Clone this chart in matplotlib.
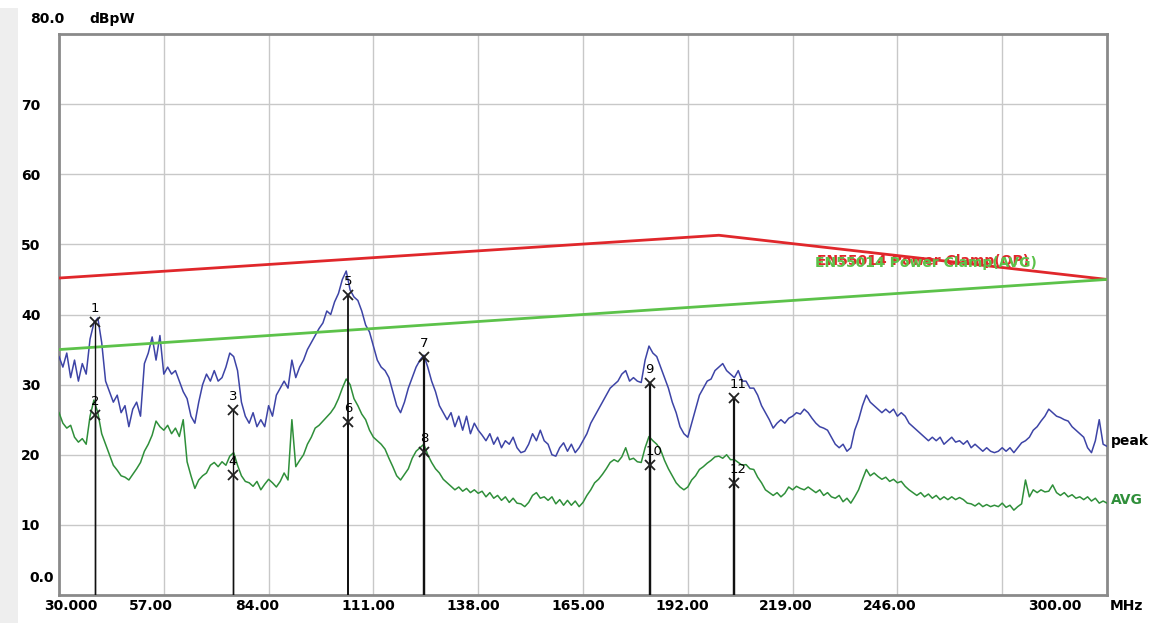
import numpy as np
import matplotlib
matplotlib.use("Agg")
import matplotlib.pyplot as plt
from matplotlib.patches import Rectangle

# scan frequencies, 1 MHz steps
freq = np.arange(30, 301, 1)

peak = [
    34.0, 32.5, 34.5, 31.0, 33.5, 30.5, 33.0, 31.5, 36.5, 38.8,
    39.5, 36.0, 30.5, 29.0, 27.5, 28.5, 26.0, 27.0, 24.0, 26.5,
    27.5, 25.5, 33.0, 34.5, 36.8, 33.5, 37.0, 31.5, 32.5, 31.5,
    32.0, 30.5, 29.0, 28.0, 25.5, 24.5, 27.5, 30.0, 31.5, 30.5,
    32.0, 30.5, 31.0, 32.5, 34.5, 34.0, 32.0, 27.5, 25.5, 24.5,
    26.0, 24.0, 25.0, 24.0, 27.0, 25.5, 28.5, 29.5, 30.5, 29.5,
    33.5, 31.0, 32.5, 33.5, 35.0, 36.0, 37.0, 38.0, 38.8, 40.5,
    40.0, 41.8, 43.0, 45.0, 46.2, 43.5, 42.5, 42.0, 40.5, 38.5,
    37.5, 35.5, 33.5, 32.5, 32.0, 31.0, 29.0, 27.0, 26.0, 27.5,
    29.5, 31.0, 32.5, 33.5, 34.2, 32.5, 30.5, 29.0, 27.0, 26.0,
    25.0, 26.0, 24.0, 25.5, 23.5, 25.5, 23.0, 24.5, 23.5, 22.8,
    22.0, 23.0, 21.5, 22.5, 21.0, 22.0, 21.5, 22.5, 21.0, 20.3,
    20.5, 21.5, 23.0, 22.0, 23.5, 22.0, 21.5, 20.0, 19.8, 21.0,
    21.7, 20.5, 21.5, 20.3, 21.0, 22.0, 23.0, 24.5, 25.5, 26.5,
    27.5, 28.5, 29.5, 30.0, 30.5, 31.5, 32.0, 30.5, 31.0, 30.5,
    30.3, 33.5, 35.5, 34.5, 34.0, 32.5, 31.0, 29.5, 27.5, 26.0,
    24.0, 23.0, 22.5, 24.5, 26.5, 28.5, 29.5, 30.5, 30.8, 32.0,
    32.5, 33.0, 32.0, 31.5, 31.0, 32.0, 30.5, 30.5, 29.5, 29.5,
    28.5, 27.0, 26.0, 25.0, 23.8, 24.5, 25.0, 24.5, 25.2, 25.5,
    26.0, 25.8, 26.5, 26.0, 25.2, 24.5, 24.0, 23.8, 23.5, 22.5,
    21.5, 21.0, 21.5, 20.5, 21.0, 23.5, 25.0, 27.0, 28.5, 27.5,
    27.0, 26.5, 26.0, 26.5, 26.0, 26.5, 25.5, 26.0, 25.5, 24.5,
    24.0, 23.5, 23.0, 22.5, 22.0, 22.5, 22.0, 22.5, 21.5, 22.0,
    22.5, 21.8, 22.0, 21.5, 22.0, 21.0, 21.5, 21.0, 20.5, 21.0,
    20.5, 20.3, 20.5, 21.0, 20.5, 21.0, 20.3, 21.0, 21.7, 22.0,
    22.5, 23.5, 24.0, 24.8, 25.5, 26.5, 26.0, 25.5, 25.3, 25.0,
    24.8, 24.0, 23.5, 23.0, 22.5, 21.0, 20.3, 22.0, 25.0, 21.5,
    21.2,
]

avg = [
    26.0, 24.5, 23.8, 24.2, 22.5, 21.8, 22.3, 21.5, 25.5, 27.8,
    26.0, 23.0, 21.5, 20.0, 18.5, 17.8, 17.0, 16.8, 16.4, 17.2,
    18.0, 18.9, 20.5, 21.5, 22.8, 24.8, 24.0, 23.5, 24.2, 23.0,
    23.8, 22.6, 25.0, 19.0, 17.0, 15.2, 16.4, 17.0, 17.4, 18.5,
    18.9, 18.3, 19.0, 18.5, 19.8, 20.3, 18.5, 17.0, 16.2, 16.0,
    15.5, 16.2, 15.0, 15.8, 16.5, 16.0, 15.4, 16.2, 17.4, 16.4,
    25.0, 18.3, 19.2, 20.0, 21.5, 22.5, 23.8, 24.2, 24.8, 25.4,
    26.0, 26.8, 28.0, 29.5, 30.8, 30.0, 28.0, 27.0, 25.8, 25.0,
    23.5, 22.5, 22.0, 21.5, 20.8, 19.5, 18.3, 17.0, 16.4, 17.2,
    18.0, 19.5, 20.5, 21.0, 21.5, 20.0, 18.9, 18.0, 17.4, 16.5,
    16.0, 15.5, 15.0, 15.4, 14.8, 15.2, 14.6, 15.0, 14.5, 14.8,
    14.0, 14.6, 13.8, 14.2, 13.5, 14.0, 13.2, 13.8, 13.1, 13.0,
    12.6, 13.2, 14.2, 14.6, 13.8, 14.0, 13.5, 14.0, 13.0, 13.6,
    12.8, 13.5, 12.8, 13.4, 12.6, 13.2, 14.2, 15.0, 16.0, 16.5,
    17.2, 18.0, 18.9, 19.3, 19.0, 19.7, 21.0, 19.3, 19.5, 19.0,
    18.9, 21.0, 22.6, 22.0, 21.5, 20.7, 19.2, 18.0, 17.0, 16.0,
    15.4, 15.0, 15.4, 16.4, 17.0, 17.9, 18.3, 18.8, 19.2, 19.7,
    19.8, 19.5, 20.0, 19.3, 19.3, 18.9, 18.5, 18.6, 18.0, 17.9,
    16.8, 16.0, 15.0, 14.6, 14.2, 14.6, 14.0, 14.5, 15.4, 15.0,
    15.5, 15.2, 15.0, 15.4, 15.0, 14.6, 15.0, 14.2, 14.6, 14.0,
    13.8, 14.2, 13.3, 13.8, 13.1, 14.0, 15.0, 16.5, 17.9, 17.0,
    17.4, 16.9, 16.5, 16.8, 16.2, 16.5, 16.0, 16.2, 15.5, 15.0,
    14.6, 14.2, 14.6, 14.0, 14.4, 13.8, 14.2, 13.6, 14.0, 13.6,
    14.0, 13.6, 13.9, 13.6, 13.1, 13.0, 12.7, 13.1, 12.6, 12.9,
    12.6, 12.8, 12.6, 13.1, 12.5, 12.8, 12.1, 12.6, 13.0, 16.4,
    14.0, 15.0, 14.6, 15.0, 14.7, 14.8, 15.7, 14.6, 14.2, 14.6,
    14.0, 14.3, 13.8, 14.0, 13.6, 14.0, 13.4, 13.8, 13.1, 13.4,
    13.1,
]

# limit lines (breakpoints)
qp_freq = [30, 200, 300]
qp_limit = [45.2, 51.3, 45.0]
av_freq = [30, 300]
av_limit = [35.0, 45.0]

# marker readings: number, frequency (MHz), level (dBpW)
mk_num = [1, 2, 3, 4, 5, 6, 7, 8, 9, 10, 11, 12]
mk_freq = [39.3, 39.3, 74.8, 74.8, 104.5, 104.5, 124.0, 124.0,
           182.2, 182.2, 203.8, 203.8]
mk_level = [38.9, 25.7, 26.4, 17.1, 42.8, 24.7, 34.0, 20.4,
            30.3, 18.6, 28.1, 16.0]

xtick_labels = ["30.000", "57.00", "84.00", "111.00", "138.00", "165.00",
                "192.00", "219.00", "246.00", "300.00"]
xtick_pos = [33.1, 53.7, 81.0, 109.6, 136.7, 163.7, 190.5, 217.3, 244.1, 286.6]
ytick_vals = [10, 20, 30, 40, 50, 60, 70]

W, H = 1158, 623
fig = plt.figure(figsize=(W / 100, H / 100), dpi=100)
fig.patch.set_facecolor("white")
fig.patches.append(Rectangle((0, 0), 18 / W, 1 - 8 / H, transform=fig.transFigure,
                             facecolor="#eeeeee", edgecolor="none", zorder=0))

ax = fig.add_axes([59 / W, 1 - 595 / H, 1048 / W, 561 / H])
ax.set_xlim(30, 300)
ax.set_ylim(0, 80)

for v in range(57, 300, 27):
    ax.axvline(v, color="#c8c8c8", lw=1, zorder=1)
for v in ytick_vals:
    ax.axhline(v, color="#c8c8c8", lw=1, zorder=1)

for s in ax.spines.values():
    s.set_color("#8a8a8a")
    s.set_linewidth(2)

ax.set_xticks([])
ax.set_yticks(ytick_vals)
ax.set_yticklabels([str(v) for v in ytick_vals], fontsize=10, fontweight="bold")
ax.tick_params(axis="y", length=0, pad=13.5)

# traces
ax.plot(freq, peak, color="#3d44a6", lw=1.1, zorder=3)
ax.plot(freq, avg, color="#2f8f3a", lw=1.1, zorder=3)

# limits, with their names written over each other near the right end
ax.plot(qp_freq, qp_limit, color="#e0272b", lw=2, zorder=4)
ax.plot(av_freq, av_limit, color="#5cc24a", lw=2, zorder=4)
ax.text(225.4, 47.6, "EN55014 Power Clamp(QP)", color="#e0272b", fontsize=10,
        fontweight="bold", va="center", ha="left", zorder=5)
ax.text(224.8, 47.4, "EN55014 Power Clamp(AVG)", color="#5cc24a", fontsize=10,
        fontweight="bold", va="center", ha="left", zorder=6)

# markers with drop lines
drop_w = [1.0, 1.0, 1.0, 1.0, 1.3, 1.3, 1.6, 1.6, 1.6, 1.6, 1.6, 1.6]
for n, f, lv, lw in zip(mk_num, mk_freq, mk_level, drop_w):
    ax.plot([f, f], [0, lv], color="#111111", lw=lw, zorder=5)
    ax.plot(f, lv, marker="x", color="#222222", ms=7.5, mew=1.3, zorder=6)
    ax.annotate(str(n), (f, lv), xytext=(-3, 5), textcoords="offset points",
                ha="left", va="bottom", fontsize=9.5, color="black", zorder=7)

# x labels below the frame
tr = ax.get_xaxis_transform()
for lab, xp in zip(xtick_labels, xtick_pos):
    ax.text(xp, -0.02, lab, transform=tr, ha="center", va="center",
            fontsize=10, fontweight="bold", clip_on=False)
fig.text(1110 / W, 1 - 606 / H, "MHz", ha="left", va="center",
         fontsize=10, fontweight="bold")

# y-axis extras
fig.text(30 / W, 1 - 19 / H, "80.0", ha="left", va="center", fontsize=10, fontweight="bold")
fig.text(89 / W, 1 - 19 / H, "dBpW", ha="left", va="center", fontsize=10, fontweight="bold")
fig.text(29 / W, 1 - 578 / H, "0.0", ha="left", va="center", fontsize=10, fontweight="bold")

# trace names at right end
fig.text(1111 / W, 1 - 441 / H, "peak", ha="left", va="center", fontsize=10,
         fontweight="bold", color="black")
fig.text(1111 / W, 1 - 500 / H, "AVG", ha="left", va="center", fontsize=10,
         fontweight="bold", color="#2f8f3a")

fig.savefig("out.png", dpi=100)
